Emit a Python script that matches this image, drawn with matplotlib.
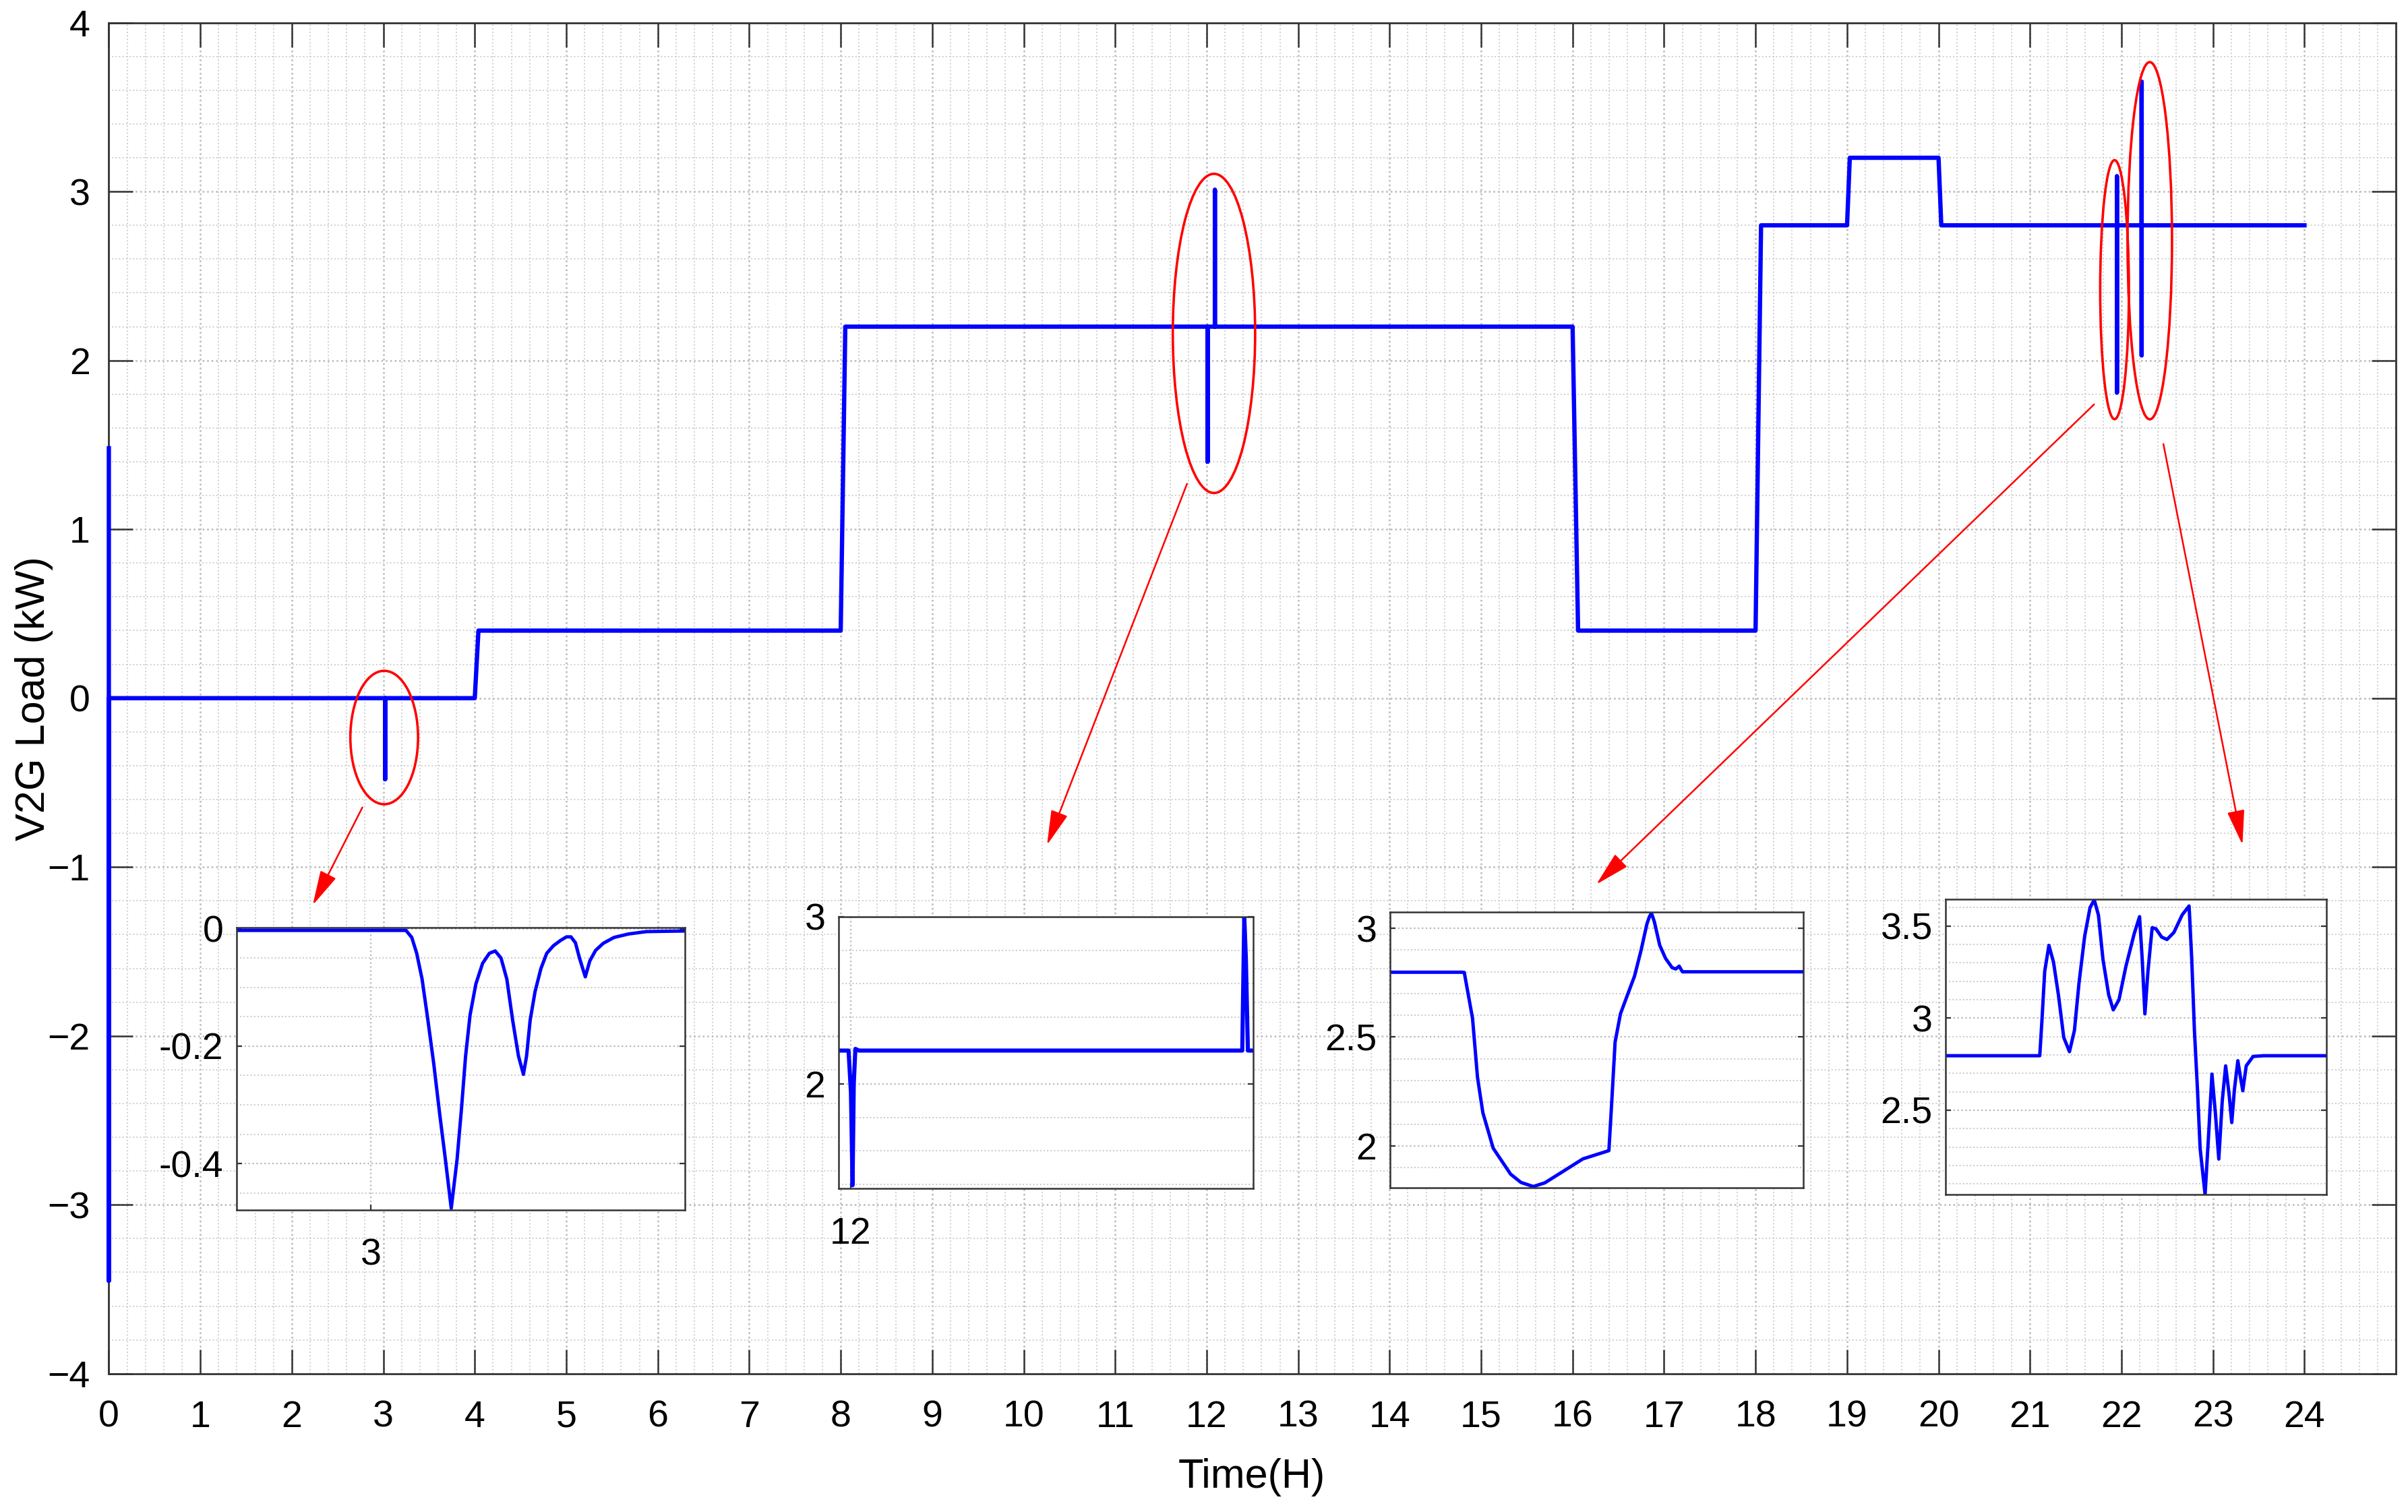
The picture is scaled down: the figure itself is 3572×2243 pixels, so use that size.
import matplotlib.pyplot as plt
from matplotlib.patches import Ellipse
from matplotlib.ticker import MultipleLocator

plt.rcParams['font.family'] = ['Liberation Sans', 'DejaVu Sans']

# main V2G load profile over the day
main_time = [0.0, 0.0, 0.0, 0.03, 3.02, 3.02, 3.02, 4.0, 4.04, 8.0, 8.05,
             12.01, 12.01, 12.01, 12.09, 12.09, 12.09, 16.0, 16.06, 18.0, 18.06,
             19.0, 19.03, 20.0, 20.03, 21.95, 21.95, 21.95, 21.95,
             22.22, 22.22, 22.22, 22.22, 24.0]
main_load = [1.48, -3.45, 0.0, 0.0, 0.0, -0.48, 0.0, 0.0, 0.4, 0.4, 2.2,
             2.2, 1.4, 2.2, 2.2, 3.01, 2.2, 2.2, 0.4, 0.4, 2.8,
             2.8, 3.2, 3.2, 2.8, 2.8, 3.09, 1.81, 2.8,
             2.8, 3.65, 2.03, 2.8, 2.8]

# zoom 1: transient around 3 h (time in hours)
z1_time = [2.97, 3.0078, 3.0091, 3.0102, 3.0114, 3.0127, 3.0140, 3.0153, 3.0166,
           3.0179, 3.0192, 3.0202, 3.0211, 3.0221, 3.0234, 3.0249, 3.0264, 3.0277,
           3.0290, 3.0303, 3.0316, 3.0329, 3.0340, 3.0347, 3.0355, 3.0366, 3.0379,
           3.0392, 3.0407, 3.0423, 3.0436, 3.0446, 3.0456, 3.0465, 3.0478, 3.0488,
           3.0501, 3.0518, 3.0542, 3.0575, 3.0615, 3.07]
z1_load = [-0.003, -0.003, -0.015, -0.042, -0.086, -0.156, -0.230, -0.314, -0.393,
           -0.476, -0.393, -0.305, -0.217, -0.147, -0.094, -0.059, -0.042, -0.038,
           -0.050, -0.086, -0.156, -0.217, -0.248, -0.217, -0.156, -0.107, -0.068,
           -0.042, -0.029, -0.020, -0.014, -0.014, -0.024, -0.050, -0.082, -0.055,
           -0.037, -0.025, -0.015, -0.009, -0.005, -0.004]

# zoom 2: transient around 12 h (time in hours)
z2_time = [11.997, 11.9995, 12.0001, 12.0005, 12.0008, 12.0012, 12.0021,
           12.0973, 12.0978, 12.0982, 12.0987, 12.1]
z2_load = [2.2, 2.2, 1.95, 1.395, 2.0, 2.21, 2.2, 2.2, 3.0, 2.75, 2.2, 2.2]

# zoom 3: first transient near 22 h (relative time, s)
z3_time = [0, 17.5, 18, 20, 21.2, 22.5, 25, 29.2, 31.7, 34.7, 37.5, 41.7, 46.7,
           53, 53.7, 54.5, 55.8, 57.5, 59.2, 60.8, 62.2, 62.8, 63.3, 64.0, 65.3,
           66.7, 68.3, 69.2, 70, 70.8, 100]
z3_load = [2.798, 2.798, 2.797, 2.586, 2.315, 2.152, 1.989, 1.87, 1.832, 1.813,
           1.83, 1.88, 1.94, 1.978, 2.206, 2.477, 2.607, 2.694, 2.78, 2.90, 3.02,
           3.053, 3.07, 3.03, 2.922, 2.862, 2.819, 2.813, 2.826, 2.80, 2.80]

# zoom 4: second transient near 22 h (relative time, s)
z4_time = [0, 24.7, 25.3, 26.0, 27.1, 28.3, 29.6, 31.0, 32.5, 33.8, 35.0, 36.5,
           37.9, 39.0, 40.1, 41.3, 42.8, 44.0, 45.5, 47.3, 49.5, 50.9, 51.6,
           52.3, 53.1, 54.2, 55.2, 56.7, 58.1, 59.9, 62.1, 63.9, 64.6, 65.3,
           66.1, 66.8, 68.1, 69.0, 69.9, 70.8, 71.7, 72.6, 73.5, 74.4, 75.1,
           75.8, 76.7, 77.4, 78.0, 78.9, 80.7, 83.4, 100]
z4_load = [2.796, 2.796, 2.997, 3.254, 3.395, 3.305, 3.126, 2.895, 2.818, 2.933,
           3.19, 3.446, 3.60, 3.642, 3.56, 3.318, 3.126, 3.045, 3.1, 3.28, 3.459,
           3.551, 3.318, 3.023, 3.254, 3.491, 3.485, 3.44, 3.427, 3.465, 3.561,
           3.609, 3.318, 2.933, 2.613, 2.292, 2.042, 2.357, 2.696, 2.485, 2.235,
           2.549, 2.741, 2.587, 2.433, 2.613, 2.769, 2.677, 2.606, 2.741, 2.792,
           2.796, 2.796]

# red ellipses (center time, center load, width, height)
ellipses = [(3.01, -0.233, 0.74, 0.79),
            (12.08, 2.16, 0.9, 1.89),
            (21.924, 2.419, 0.314, 1.534),
            (22.309, 2.709, 0.486, 2.115)]
# arrows (start, tip) in data units
arrows = [((2.79, -0.627), (2.21, -1.245)),
          ((11.80, 1.29), (10.24, -0.89)),
          ((21.73, 1.755), (16.23, -1.118)),
          ((22.45, 1.527), (23.33, -0.89))]

blue = '#0000ff'
red = '#ff0000'
spine_c = '#333333'

fig = plt.figure(figsize=(17.86, 11.215), dpi=200)
ax = fig.add_axes([0.0452, 0.0915, 0.9498, 0.8935])
ax.plot(main_time, main_load, color=blue, lw=2.3, zorder=3, clip_on=False)
ax.set_xlim(0, 25)
ax.set_ylim(-4, 4)
ax.set_xticks(range(0, 25))
ax.set_yticks(range(-4, 5))
ax.xaxis.set_minor_locator(MultipleLocator(0.2))
ax.yaxis.set_minor_locator(MultipleLocator(0.2))
ax.grid(which='major', ls=':', color='#b8b8b8', lw=0.9)
ax.grid(which='minor', ls=':', color='#cfcfcf', lw=0.7)
ax.tick_params(which='major', direction='in', top=True, right=True, length=13,
               width=0.9, color=spine_c, labelsize=20)
ax.tick_params(axis='x', pad=14)
ax.tick_params(axis='y', pad=10)
ax.tick_params(which='minor', length=0)
for s in ax.spines.values():
    s.set_color(spine_c)
    s.set_linewidth(1.0)

fig.text(22 / 1568, 1 - 455 / 984.6, 'V2G Load (kW)', rotation=90,
         ha='center', va='center', fontsize=22)
fig.text(815 / 1568, 1 - 962 / 984.6, 'Time(H)', ha='center', va='center',
         fontsize=22)

for cx, cy, w, h in ellipses:
    ax.add_patch(Ellipse((cx, cy), w, h, fill=False, ec=red, lw=1.3, zorder=4))
for start, tip in arrows:
    ax.annotate('', xy=tip, xytext=start,
                arrowprops=dict(arrowstyle='-|>,head_length=0.8,head_width=0.2',
                                color=red, lw=0.9, mutation_scale=20))


def inset(rect, t, v, xlim, ylim, yticks, ylabels, yminor, xticks=(), xlabels=(),
          lw=1.8):
    a = fig.add_axes(rect)
    a.plot(t, v, color=blue, lw=lw)
    a.set_xlim(*xlim)
    a.set_ylim(*ylim)
    a.set_yticks(yticks)
    a.set_yticklabels(ylabels)
    a.set_xticks(list(xticks))
    a.set_xticklabels(list(xlabels))
    a.yaxis.set_minor_locator(MultipleLocator(yminor))
    a.grid(which='major', ls=':', color='#b8b8b8', lw=0.8)
    a.grid(which='minor', axis='y', ls=':', color='#c8c8c8', lw=0.7)
    a.tick_params(which='major', direction='in', right=True, length=3,
                  width=0.8, color=spine_c, labelsize=20)
    a.tick_params(axis='y', pad=7)
    a.tick_params(axis='x', pad=15)
    a.tick_params(which='minor', length=0)
    for s in a.spines.values():
        s.set_color(spine_c)
        s.set_linewidth(0.9)
    return a


inset([0.0982, 0.1997, 0.1862, 0.1869], z1_time, z1_load, (2.97, 3.07),
      (-0.479, 0.002), [0, -0.2, -0.4], ['0', '-0.2', '-0.4'], 0.05,
      xticks=[3], xlabels=['3'])
inset([0.3482, 0.2139, 0.1722, 0.1798], z2_time, z2_load, (11.997, 12.1),
      (1.375, 3.0), [2, 3], ['2', '3'], 0.2,
      xticks=[12], xlabels=['12'], lw=2.2)
inset([0.5772, 0.2144, 0.1716, 0.1823], z3_time, z3_load, (0, 100),
      (1.807, 3.074), [2, 2.5, 3], ['2', '2.5', '3'], 0.1)
inset([0.8080, 0.2098, 0.1582, 0.1954], z4_time, z4_load, (0, 100),
      (2.041, 3.645), [2.5, 3, 3.5], ['2.5', '3', '3.5'], 0.1)

fig.savefig('out.png', dpi=200)
